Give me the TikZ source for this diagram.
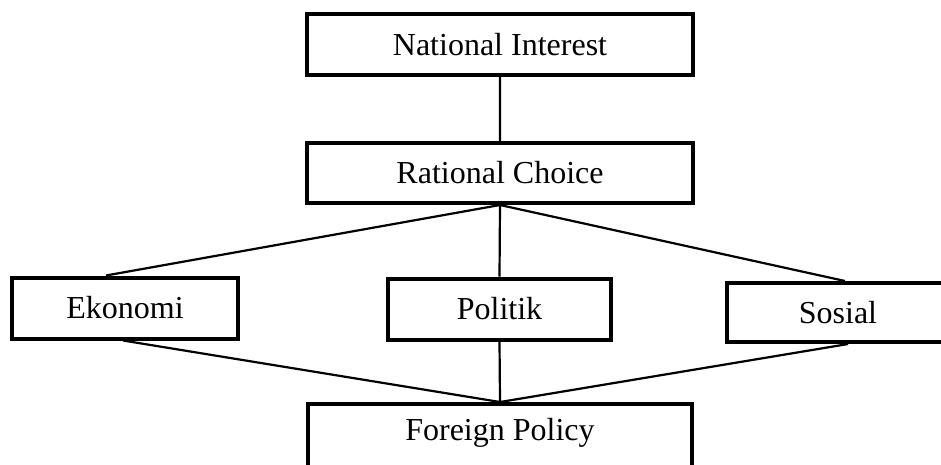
\documentclass[tikz,border=0pt]{standalone}
\usepackage{fontspec}
\setmainfont{Liberation Serif}

\begin{document}
\begin{tikzpicture}[x=1pt, y=-1pt,
      every node/.style = {shape=rectangle, draw, line width=4pt,
        align=center, font=\fontsize{32}{38}\selectfont,
        minimum height=61pt}]
      \useasboundingbox (0,0) rectangle (941,464);
      \node[minimum width=386pt] (ni) at (500,44.5) {National Interest};
      \node[minimum width=386pt, minimum height=60pt] (rc) at (500,173) {Rational Choice};
      \node[minimum width=226pt] (ek) at (125,308) {Ekonomi};
      \node[minimum width=223pt] (po) at (499.5,309) {Politik};
      \node[minimum width=222pt, minimum height=59pt] (so) at (838,312.5) {Sosial};
      \node[minimum width=384pt, minimum height=0pt, inner ysep=0pt,
        text height=36pt, text depth=40pt, anchor=base] (fp) at (500,440) {Foreign Policy};
      \draw[line width=2.2pt] (ni.south) -- (rc.north)
        (rc.south) -- ([xshift=-19pt]ek.north)
        (rc.south) -- (po.north)
        (rc.south) -- ([xshift=7pt]so.north)
        ([xshift=-2pt]ek.south) -- (fp.north)
        (po.south) -- (fp.north)
        ([xshift=10pt]so.south) -- (fp.north);
  \end{tikzpicture}
\end{document}
